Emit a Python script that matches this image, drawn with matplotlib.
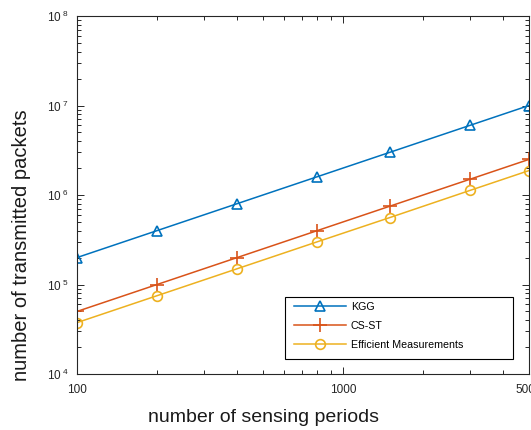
import matplotlib
matplotlib.use("Agg")
import matplotlib.pyplot as plt
from matplotlib.patches import Rectangle
from matplotlib.ticker import FixedLocator, LogLocator, NullFormatter

plt.rcParams['font.family'] = ['Liberation Sans', 'DejaVu Sans']
plt.rcParams['mathtext.fontset'] = 'custom'
plt.rcParams['mathtext.rm'] = 'Liberation Sans'

periods = [100, 200, 400, 800, 1500, 3000, 5000]
kgg = [2e5, 4e5, 8e5, 1.6e6, 3e6, 6e6, 1e7]
csst = [5e4, 1e5, 2e5, 4e5, 7.5e5, 1.5e6, 2.5e6]
eff = [3.75e4, 7.5e4, 1.5e5, 3e5, 5.6e5, 1.125e6, 1.875e6]
labels = ['KGG', 'CS-ST', 'Efficient Measurements']
colors = ['#0072BD', '#D95319', '#EDB120']
xticks = [100, 1000, 5000]
xticklabels = ['100', '1000', '5000']
yticks = [1e4, 1e5, 1e6, 1e7, 1e8]
yexp = [4, 5, 6, 7, 8]

W, H = 531, 430
fig = plt.figure(figsize=(W / 100, H / 100), dpi=100)
AX_L, AX_R, AX_T, AX_B = 77, 529, 16, 374
ax = fig.add_axes([AX_L / W, 1 - AX_B / H, (AX_R - AX_L) / W, (AX_B - AX_T) / H])


def axx(px):
    return (px - AX_L) / (AX_R - AX_L)


def axy(py):
    return (AX_B - py) / (AX_B - AX_T)


ax.plot(periods, kgg, '-', marker='^', color=colors[0], lw=1.1, ms=7.5,
        mfc='none', mew=1.2, label=labels[0])
ax.plot(periods, csst, '-', marker='+', color=colors[1], lw=1.1, ms=10,
        mew=1.2, label=labels[1])
ax.plot(periods, eff, '-', marker='o', color=colors[2], lw=1.1, ms=7,
        mfc='none', mew=1.2, label=labels[2])

ax.set_xscale('log')
ax.set_yscale('log')
ax.set_xlim(100, 5000)
ax.set_ylim(1e4, 1e8)
ax.xaxis.set_major_locator(FixedLocator(xticks))
ax.set_xticklabels(xticklabels)
ax.xaxis.set_minor_locator(LogLocator(base=10, subs=range(2, 10)))
ax.xaxis.set_minor_formatter(NullFormatter())
ax.yaxis.set_major_locator(FixedLocator(yticks))
ax.set_yticklabels([r'$\mathregular{10^{\;%d}}$' % e for e in yexp])
ax.yaxis.set_minor_locator(LogLocator(base=10, subs=range(2, 10)))
ax.yaxis.set_minor_formatter(NullFormatter())

tc = '#262626'
for s in ax.spines.values():
    s.set_color(tc)
    s.set_linewidth(0.8)
ax.tick_params(which='both', direction='in', top=True, right=True,
               colors=tc, labelcolor=tc, labelsize=8.5, width=0.7)
ax.tick_params(which='major', length=5)
ax.tick_params(which='minor', length=2.8)
ax.tick_params(axis='x', pad=7)
ax.tick_params(axis='y', pad=6)

ax.set_xlabel('number of sensing periods', fontsize=14, color='#1a1a1a')
ax.set_ylabel('number of transmitted packets', fontsize=14.5, color='#1a1a1a')
ax.xaxis.set_label_coords(axx(263), axy(409))
ax.yaxis.set_label_coords(axx(31), axy(245))

# legend frame drawn as a box, entries placed inside it
ax.add_patch(Rectangle((axx(285), axy(359)), axx(513) - axx(285),
                       axy(297) - axy(359), transform=ax.transAxes,
                       facecolor='white', edgecolor='black', lw=0.8,
                       zorder=4.5, clip_on=False))
leg = ax.legend(loc='upper left', bbox_to_anchor=(axx(294), axy(302)),
                fontsize=7.7, frameon=False, handlelength=4.86,
                handletextpad=0.45, labelspacing=0.85, borderpad=0,
                borderaxespad=0)
leg.set_zorder(5)

fig.savefig('out.png', dpi=100)
